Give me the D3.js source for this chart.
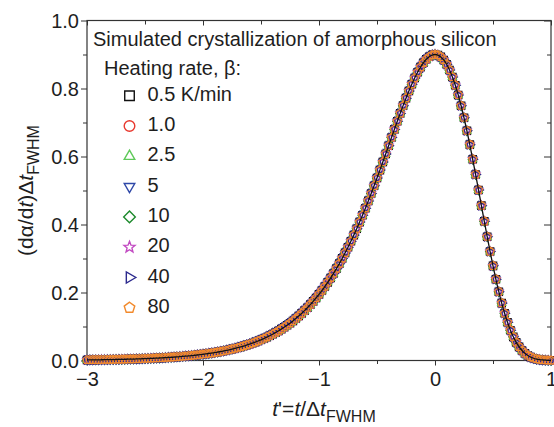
<!DOCTYPE html>
<html><head><meta charset="utf-8">
<script src="https://cdn.jsdelivr.net/npm/d3@7"></script>
<style>
body{margin:0;background:#fff}
svg{display:block}
text{font-family:"Liberation Sans",Arial,Helvetica,sans-serif;fill:#1e1e1e}
</style>
</head><body>
<svg id="chart" width="554" height="427"></svg>
<script>
// ---- data ----
const tPrime = [
-3.000,-2.975,-2.950,-2.925,-2.900,-2.875,-2.850,-2.825,-2.800,-2.775,
-2.750,-2.725,-2.700,-2.675,-2.650,-2.625,-2.600,-2.575,-2.550,-2.525,
-2.500,-2.475,-2.450,-2.425,-2.400,-2.375,-2.350,-2.325,-2.300,-2.275,
-2.250,-2.225,-2.200,-2.175,-2.150,-2.125,-2.100,-2.075,-2.050,-2.025,
-2.000,-1.975,-1.950,-1.925,-1.900,-1.875,-1.850,-1.825,-1.800,-1.775,
-1.750,-1.725,-1.700,-1.675,-1.650,-1.625,-1.600,-1.575,-1.550,-1.525,
-1.500,-1.475,-1.450,-1.425,-1.400,-1.375,-1.350,-1.325,-1.300,-1.275,
-1.250,-1.225,-1.200,-1.175,-1.150,-1.125,-1.100,-1.075,-1.050,-1.025,
-1.000,-0.975,-0.950,-0.925,-0.900,-0.875,-0.850,-0.825,-0.800,-0.775,
-0.750,-0.725,-0.700,-0.675,-0.650,-0.625,-0.600,-0.575,-0.550,-0.525,
-0.500,-0.475,-0.450,-0.425,-0.400,-0.375,-0.350,-0.325,-0.300,-0.275,
-0.250,-0.225,-0.200,-0.175,-0.150,-0.125,-0.100,-0.075,-0.050,-0.025,
0.000,0.025,0.050,0.075,0.100,0.125,0.150,0.175,0.200,0.225,
0.250,0.275,0.300,0.325,0.350,0.375,0.400,0.425,0.450,0.475,
0.500,0.525,0.550,0.575,0.600,0.625,0.650,0.675,0.700,0.725,
0.750,0.775,0.800,0.825,0.850,0.875,0.900,0.925,0.950,0.975,
1.000];

const masterCurve = [
0.0016,0.0017,0.0018,0.0019,0.0020,0.0022,0.0023,0.0024,0.0026,0.0028,
0.0029,0.0031,0.0033,0.0035,0.0038,0.0040,0.0042,0.0045,0.0048,0.0051,
0.0054,0.0058,0.0061,0.0065,0.0069,0.0073,0.0078,0.0083,0.0088,0.0094,
0.0099,0.0106,0.0112,0.0119,0.0127,0.0135,0.0143,0.0152,0.0162,0.0172,
0.0183,0.0194,0.0206,0.0219,0.0233,0.0247,0.0263,0.0279,0.0296,0.0315,
0.0334,0.0355,0.0377,0.0401,0.0425,0.0452,0.0480,0.0509,0.0541,0.0574,
0.0609,0.0646,0.0686,0.0728,0.0772,0.0819,0.0869,0.0922,0.0977,0.1036,
0.1098,0.1164,0.1234,0.1307,0.1385,0.1466,0.1552,0.1643,0.1739,0.1840,
0.1945,0.2057,0.2174,0.2297,0.2425,0.2560,0.2702,0.2849,0.3003,0.3165,
0.3332,0.3507,0.3688,0.3876,0.4071,0.4272,0.4480,0.4694,0.4913,0.5138,
0.5367,0.5600,0.5837,0.6076,0.6316,0.6558,0.6797,0.7035,0.7268,0.7496,
0.7716,0.7927,0.8126,0.8310,0.8478,0.8628,0.8755,0.8859,0.8935,0.8984,
0.9000,0.8983,0.8930,0.8840,0.8712,0.8545,0.8339,0.8094,0.7811,0.7493,
0.7140,0.6757,0.6349,0.5919,0.5473,0.5016,0.4554,0.4094,0.3641,0.3204,
0.2784,0.2389,0.2023,0.1688,0.1388,0.1123,0.0892,0.0696,0.0533,0.0400,
0.0293,0.0210,0.0147,0.0100,0.0066,0.0043,0.0027,0.0016,0.0009,0.0005,
0.0003];

// heating rates (all simulated curves collapse onto the master curve)
const seriesNames  = ["0.5 K/min","1.0","2.5","5","10","20","40","80"];
const seriesColors = ["#111111","#e8382e","#5fc95a","#2f48a8","#1d8a2c","#c24ac2","#2c2a8e","#f28a2c"];
const seriesShapes = ["square","circle","triangleUp","triangleDown","diamond","star","triangleRight","pentagon"];
const seriesValues = [masterCurve,masterCurve,masterCurve,masterCurve,masterCurve,masterCurve,masterCurve,masterCurve];

const xTicks = [-3,-2,-1,0,1];
const xMinorTicks = [-2.5,-1.5,-0.5,0.5];
const yTicks = [0.0,0.2,0.4,0.6,0.8,1.0];
const yMinorTicks = [0.1,0.3,0.5,0.7,0.9];

const titleText = "Simulated crystallization of amorphous silicon";
const legendHeader = "Heating rate, \u03b2:";

// ---- layout ----
const svg = d3.select("#chart");
const L = 87, R = 551, T = 20.5, B = 360.5;
const x = d3.scaleLinear().domain([-3,1]).range([L,R]);
const y = d3.scaleLinear().domain([0,1]).range([B,T]);
const axisColor = "#333";

// marker shapes
function shapePath(type, r){
  const poly = (n, rot, rr) => {
    const pts = d3.range(n).map(i => {
      const a = rot + i*2*Math.PI/n;
      return [rr*Math.cos(a), rr*Math.sin(a)];
    });
    return "M" + pts.map(p => p[0].toFixed(2)+","+p[1].toFixed(2)).join("L") + "Z";
  };
  switch(type){
    case "square": { const s = r*0.9; return `M${-s},${-s}H${s}V${s}H${-s}Z`; }
    case "circle": return `M${r},0A${r},${r} 0 1,1 ${-r},0A${r},${r} 0 1,1 ${r},0Z`;
    case "triangleUp": return poly(3, -Math.PI/2, r*1.15);
    case "triangleDown": return poly(3, Math.PI/2, r*1.15);
    case "triangleRight": return poly(3, 0, r*1.2);
    case "diamond": return poly(4, -Math.PI/2, r*1.1);
    case "pentagon": return poly(5, -Math.PI/2, r*1.05);
    case "star": {
      const pts = d3.range(10).map(i => {
        const a = -Math.PI/2 + i*Math.PI/5;
        const rr = i%2===0 ? r*1.1 : r*0.48;
        return [rr*Math.cos(a), rr*Math.sin(a)];
      });
      return "M" + pts.map(p => p[0].toFixed(2)+","+p[1].toFixed(2)).join("L") + "Z";
    }
  }
}

// ---- axes ----
function styleAxis(g){
  g.select(".domain").remove();
  g.selectAll(".tick line").attr("stroke", axisColor).attr("stroke-width", 1);
  g.selectAll(".tick text").style("font-size","20px").attr("fill","#1e1e1e");
}
// left (outward, labelled)
svg.append("g").attr("transform",`translate(${L},0)`)
  .call(d3.axisLeft(y).tickValues(yTicks).tickSize(6).tickPadding(2).tickFormat(d3.format(".1f")))
  .call(styleAxis)
  .selectAll(".tick text").attr("dy","0.35em");
svg.append("g").attr("transform",`translate(${L},0)`)
  .call(d3.axisLeft(y).tickValues(yMinorTicks).tickSize(4).tickFormat(""))
  .call(styleAxis);
// right (inward)
svg.append("g").attr("transform",`translate(${R},0)`)
  .call(d3.axisLeft(y).tickValues(yTicks).tickSize(7).tickFormat(""))
  .call(styleAxis);
svg.append("g").attr("transform",`translate(${R},0)`)
  .call(d3.axisLeft(y).tickValues(yMinorTicks).tickSize(4).tickFormat(""))
  .call(styleAxis);
// bottom (outward, labelled)
svg.append("g").attr("transform",`translate(0,${B})`)
  .call(d3.axisBottom(x).tickValues(xTicks).tickSize(5).tickPadding(6).tickFormat(d3.format("d")))
  .call(styleAxis);
svg.append("g").attr("transform",`translate(0,${B})`)
  .call(d3.axisBottom(x).tickValues(xMinorTicks).tickSize(3.5).tickFormat(""))
  .call(styleAxis);
// top (inward)
svg.append("g").attr("transform",`translate(0,${T})`)
  .call(d3.axisBottom(x).tickValues(xTicks).tickSize(5).tickFormat(""))
  .call(styleAxis);
svg.append("g").attr("transform",`translate(0,${T})`)
  .call(d3.axisBottom(x).tickValues(xMinorTicks).tickSize(4).tickFormat(""))
  .call(styleAxis);

// frame
svg.append("rect").attr("x",L).attr("y",T).attr("width",R-L).attr("height",B-T)
  .attr("fill","none").attr("stroke",axisColor).attr("stroke-width",1.2);

// ---- data markers ----
const pts = tPrime.map((t,i) => ({t, i}));
seriesNames.forEach((name, s) => {
  const vals = seriesValues[s];
  svg.append("g").selectAll("path").data(pts).join("path")
    .attr("transform", d => `translate(${x(d.t)},${y(vals[d.i])})`)
    .attr("d", shapePath(seriesShapes[s], 4.1))
    .attr("fill","none")
    .attr("stroke", seriesColors[s])
    .attr("stroke-width", 1.2);
});

// master curve line
svg.append("path")
  .datum(pts)
  .attr("d", d3.line().x(d => x(d.t)).y(d => y(masterCurve[d.i])).curve(d3.curveMonotoneX))
  .attr("fill","none").attr("stroke","#111").attr("stroke-width",1.3);

// ---- legend ----
svg.append("text").attr("x",93).attr("y",46).style("font-size","20px").text(titleText);
svg.append("text").attr("x",104).attr("y",75).style("font-size","20px").text(legendHeader);
const lg = svg.append("g");
seriesNames.forEach((name, s) => {
  const by = 100.7 + s*30.3;
  lg.append("path").attr("transform",`translate(129.5,${by-5})`)
    .attr("d", shapePath(seriesShapes[s], 5.3))
    .attr("fill","none").attr("stroke",seriesColors[s]).attr("stroke-width",1.4);
  lg.append("text").attr("x",147.5).attr("y",by).style("font-size","20px").text(name);
});

// ---- axis titles ----
const xl = svg.append("text").attr("x",324).attr("y",416).attr("text-anchor","middle").style("font-size","21px");
xl.append("tspan").style("font-style","italic").text("t");
xl.append("tspan").text("'=");
xl.append("tspan").style("font-style","italic").text("t");
xl.append("tspan").text("/\u0394");
xl.append("tspan").style("font-style","italic").text("t");
xl.append("tspan").attr("dy",6).style("font-size","16px").text("FWHM");

const yl = svg.append("text").attr("transform",`translate(33,${(T+B)/2}) rotate(-90)`)
  .attr("text-anchor","middle").style("font-size","21px");
yl.append("tspan").text("(d\u03b1/d");
yl.append("tspan").style("font-style","italic").text("t");
yl.append("tspan").text(")\u0394");
yl.append("tspan").style("font-style","italic").text("t");
yl.append("tspan").attr("dy",6).style("font-size","16px").text("FWHM");
</script>
</body></html>
